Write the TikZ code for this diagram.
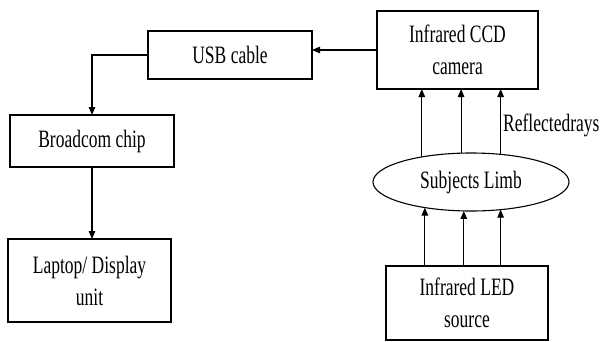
\documentclass[tikz,border=0pt]{standalone}
\usepackage{fontspec}
\setmainfont{Liberation Serif}[FakeStretch=0.7]
\usepackage{tikz}
\usetikzlibrary{shapes.geometric, arrows.meta, positioning}
\tikzstyle{arrow} = [line width=1.1pt, -{Triangle[length=8pt, width=6.5pt]}]

\begin{document}
\begin{tikzpicture}[
    x=1pt, y=-1pt,
    block/.style={rectangle, draw=black, line width=1.1pt, inner sep=0pt, outer sep=0pt, align=center, font=\fontsize{25}{32}\selectfont},
    limbshape/.style={ellipse, draw=black, line width=1.1pt, inner sep=0pt, outer sep=0pt, font=\fontsize{25}{32}\selectfont},
]
\useasboundingbox (0,0) rectangle (604,341);

% Blocks
\node[block, minimum width=164pt, minimum height=48pt] (usb) at (230, 55) {USB cable};
\node[block, minimum width=161pt, minimum height=78pt] (cam) at (457.5, 50) {Infrared CCD\\camera};
\node[block, minimum width=164pt, minimum height=52pt] (chip) at (92, 141) {Broadcom chip};
\node[block, minimum width=163pt, minimum height=83pt] (laptop) at (89.5, 280.5) {Laptop/ Display\\unit};
\node[block, minimum width=162pt, minimum height=74pt] (led) at (467, 303) {Infrared LED\\source};

% Limb
\node[limbshape, minimum width=196pt, minimum height=58pt] (limb) at (471, 182) {Subjects Limb};
\node[anchor=west, inner sep=0pt, font=\fontsize{25}{32}\selectfont] (raylbl) at (503, 125) {Reflectedrays};

% Data path
\draw[arrow] (cam.west) -- (cam.west -| usb.east);
\draw[arrow] (usb.west) -| (chip.north);
\draw[arrow] (chip.south) -- (chip.south |- laptop.north);

% Rays
\foreach \a in {153.5, 109.1, 43.7}
    \draw[arrow] (limb.\a) -- (limb.\a |- cam.south);
\foreach \a in {209.1, 256.4, 317.4}
    \draw[arrow] (limb.\a |- led.north) -- (limb.\a);

\end{tikzpicture}
\end{document}
